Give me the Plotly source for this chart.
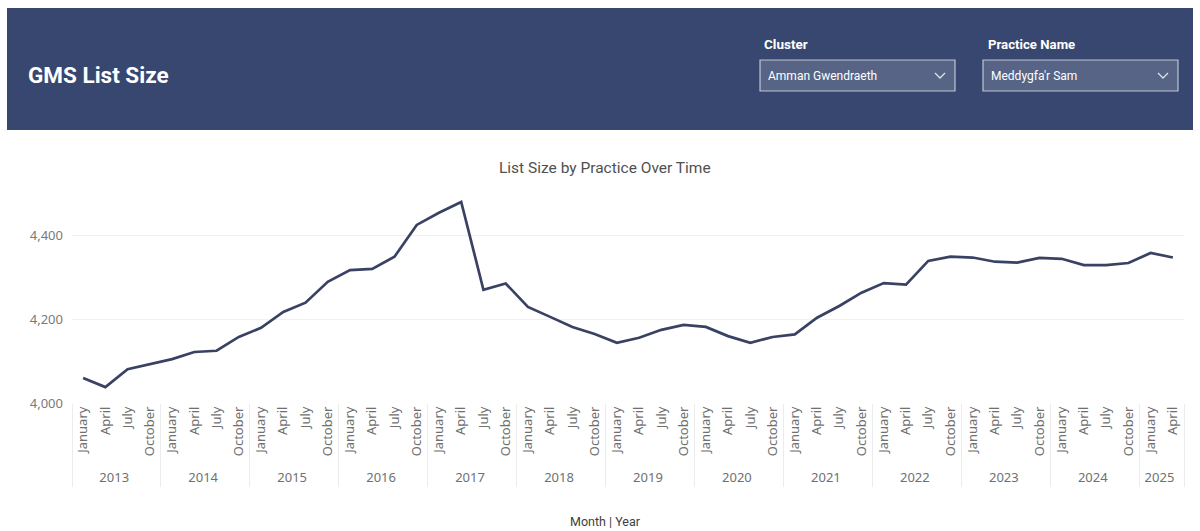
import plotly.graph_objects as go

# ---- data ----
years = (["2013"] * 4 + ["2014"] * 4 + ["2015"] * 4 + ["2016"] * 4 + ["2017"] * 4 +
         ["2018"] * 4 + ["2019"] * 4 + ["2020"] * 4 + ["2021"] * 4 + ["2022"] * 4 +
         ["2023"] * 4 + ["2024"] * 4 + ["2025"] * 2)
months = ["January", "April", "July", "October"] * 12 + ["January", "April"]
list_size = [
    4060, 4038, 4081, 4093,   # 2013
    4105, 4122, 4125, 4158,   # 2014
    4180, 4218, 4240, 4290,   # 2015
    4318, 4321, 4350, 4426,   # 2016
    4455, 4481, 4271, 4286,   # 2017
    4230, 4206, 4182, 4165,   # 2018
    4144, 4156, 4175, 4187,   # 2019
    4182, 4160, 4144, 4158,   # 2020
    4164, 4204, 4232, 4264,   # 2021
    4287, 4283, 4340, 4350,   # 2022
    4348, 4338, 4336, 4347,   # 2023
    4345, 4330, 4330, 4335,   # 2024
    4359, 4348,               # 2025
]
y_ticks = [4000, 4200, 4400]
y_tick_text = ["4,000", "4,200", "4,400"]

W, H = 1200, 531
PL, PR, PT, PB = 72, 1184, 194, 403   # plot area in pixels


def px(x):
    return (x - PL) / (PR - PL)


def py(y):
    return (PB - y) / (PB - PT)


fig = go.Figure()
fig.add_trace(go.Scatter(
    x=[years, months], y=list_size, mode="lines",
    line=dict(color="rgb(58,66,99)", width=2.7),
    hoverinfo="skip", showlegend=False,
))

NAVY = "#37476f"
shapes = [
    dict(type="rect", xref="paper", yref="paper", x0=px(7), x1=px(1193), y0=py(130), y1=py(8),
         fillcolor=NAVY, line=dict(width=0), layer="below"),
    dict(type="rect", xref="paper", yref="paper", x0=px(760), x1=px(955), y0=py(91), y1=py(60),
         fillcolor="rgba(255,255,255,0.16)", line=dict(color="rgba(230,233,240,0.75)", width=1.2)),
    dict(type="rect", xref="paper", yref="paper", x0=px(983), x1=px(1178), y0=py(91), y1=py(60),
         fillcolor="rgba(255,255,255,0.16)", line=dict(color="rgba(230,233,240,0.75)", width=1.2)),
]
for cx in (940, 1163):
    shapes.append(dict(
        type="path", xref="paper", yref="paper",
        path=f"M {px(cx-5)},{py(73)} L {px(cx)},{py(78)} L {px(cx+5)},{py(73)}",
        line=dict(color="rgba(235,238,245,0.9)", width=1.3)))

annotations = [
    dict(text="<b>GMS List Size</b>", xref="paper", yref="paper", x=px(26), y=py(75),
         xanchor="left", yanchor="middle", showarrow=False,
         font=dict(family="Roboto", size=22.5, color="white")),
    dict(text="<b>Cluster</b>", xref="paper", yref="paper", x=px(762), y=py(44),
         xanchor="left", yanchor="middle", showarrow=False,
         font=dict(family="Roboto", size=13.5, color="white")),
    dict(text="<b>Practice Name</b>", xref="paper", yref="paper", x=px(986), y=py(44),
         xanchor="left", yanchor="middle", showarrow=False,
         font=dict(family="Roboto", size=13.2, color="white")),
    dict(text="Amman Gwendraeth", xref="paper", yref="paper", x=px(766), y=py(76),
         xanchor="left", yanchor="middle", showarrow=False,
         font=dict(family="Roboto", size=12, color="white")),
    dict(text="Meddygfa'r Sam", xref="paper", yref="paper", x=px(989), y=py(76),
         xanchor="left", yanchor="middle", showarrow=False,
         font=dict(family="Roboto", size=12, color="white")),
    dict(text="List Size by Practice Over Time", xref="paper", yref="paper", x=px(605), y=py(168),
         xanchor="center", yanchor="middle", showarrow=False,
         font=dict(family="Roboto", size=15.5, color="#505050")),
    dict(text="Month | Year", xref="paper", yref="paper", x=px(605), y=py(521),
         xanchor="center", yanchor="middle", showarrow=False,
         font=dict(family="Roboto", size=12.5, color="#404040")),
]

fig.update_layout(
    width=W, height=H,
    margin=dict(l=PL, r=W - PR, t=PT, b=H - PB, pad=0),
    paper_bgcolor="white", plot_bgcolor="white",
    shapes=shapes, annotations=annotations,
    xaxis=dict(
        type="multicategory", range=[-0.5, len(list_size) - 0.5],
        tickangle=-90, tickfont=dict(family="Noto Sans", size=13, color="#707070"),
        showgrid=False, zeroline=False, showline=False, ticks="",
        showdividers=True, dividercolor="#ececec", dividerwidth=1,
    ),
    yaxis=dict(
        range=[4000, 4500], tickvals=y_ticks, ticktext=y_tick_text,
        tickfont=dict(family="Noto Sans", size=13, color="#7a7a7a"),
        showgrid=True, gridcolor="#f0f0f0", gridwidth=1, zeroline=False,
        showline=False, ticks="", ticklabelstandoff=8,
    ),
)

fig.write_html("out.html", config={"displayModeBar": False})
